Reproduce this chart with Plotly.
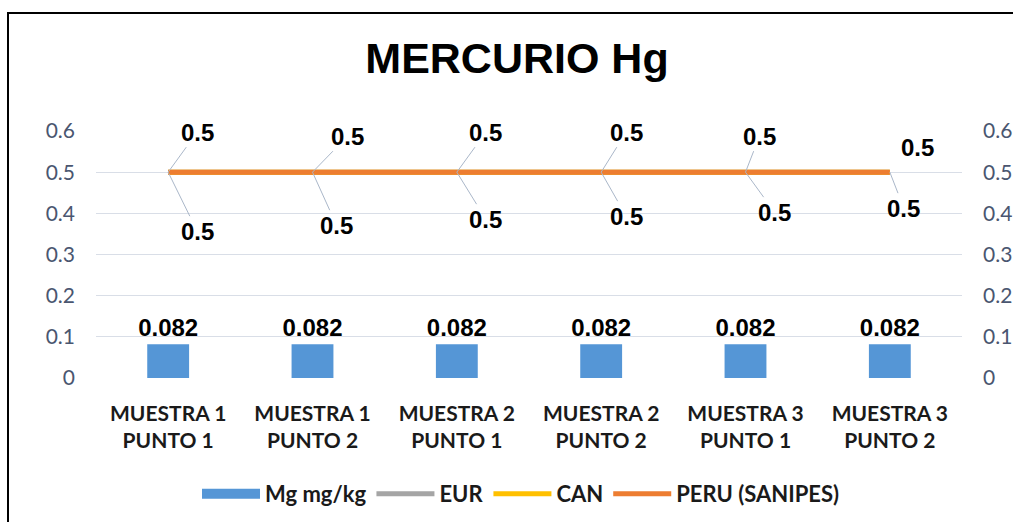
import plotly.graph_objects as go

categories = ["MUESTRA 1<br>PUNTO 1", "MUESTRA 1<br>PUNTO 2", "MUESTRA 2<br>PUNTO 1",
              "MUESTRA 2<br>PUNTO 2", "MUESTRA 3<br>PUNTO 1", "MUESTRA 3<br>PUNTO 2"]
mg_values = [0.082, 0.082, 0.082, 0.082, 0.082, 0.082]
eur_values = [0.5, 0.5, 0.5, 0.5, 0.5, 0.5]
can_values = [0.5, 0.5, 0.5, 0.5, 0.5, 0.5]
peru_values = [0.5, 0.5, 0.5, 0.5, 0.5, 0.5]
y_ticks = [0, 0.1, 0.2, 0.3, 0.4, 0.5, 0.6]

# label offsets (pixels) for the line data labels
top_offsets = [(29, -40), (35, -36), (29, -40), (25, -40), (14, -36), (28, -25)]
bot_offsets = [(29, 59), (24, 53), (29, 47), (25, 44), (29, 40), (14, 36)]

W, H = 1013, 522
L, R, T, B = 96, 51, 131, 144
pw, ph = W - L - R, H - T - B

BAR_COLOR = "#5596d6"
lblfont = dict(family="Liberation Sans", size=24, color="black", weight="bold")

fig = go.Figure()
fig.add_trace(go.Bar(
    x=categories, y=mg_values, name="Mg mg/kg", width=0.29, showlegend=False,
    legendgroup="mg",
    marker=dict(color=BAR_COLOR, line=dict(width=0)),
    text=[f"{v:.3f}" for v in mg_values], textposition="outside",
    textfont=lblfont, constraintext="none",
    cliponaxis=False,
))
# legend-only entry giving the wide rectangular swatch of the bar series
fig.add_trace(go.Scatter(
    x=[None], y=[None], name="Mg mg/kg", mode="lines", legendgroup="mg",
    line=dict(color=BAR_COLOR, width=14), hoverinfo="skip",
))
for name, vals, col in [("EUR", eur_values, "#a5a5a5"),
                        ("CAN", can_values, "#ffc000"),
                        ("PERU (SANIPES)", peru_values, "#ed7d31")]:
    fig.add_trace(go.Scatter(
        x=categories, y=vals, name=name, mode="lines", yaxis="y2",
        line=dict(color=col, width=5),
    ))

annotations = []
for i, c in enumerate(categories):
    ax, ay = top_offsets[i]
    if i == len(categories) - 1:
        annotations.append(dict(x=c, y=eur_values[i], xref="x", yref="y2",
                                text=f"{eur_values[i]}", showarrow=False,
                                xshift=ax, yshift=-ay, font=lblfont))
    else:
        annotations.append(dict(x=c, y=eur_values[i], xref="x", yref="y2",
                                text=f"{eur_values[i]}", showarrow=True, arrowhead=0,
                                arrowwidth=1, arrowcolor="#aab7c9", ax=ax, ay=ay, standoff=0,
                                font=lblfont))
    ax, ay = bot_offsets[i]
    annotations.append(dict(x=c, y=can_values[i], xref="x", yref="y2",
                            text=f"{can_values[i]}", showarrow=True, arrowhead=0,
                            arrowwidth=1, arrowcolor="#aab7c9", ax=ax, ay=ay, standoff=0,
                            font=lblfont))

tickfont = dict(family="Lato", size=21, color="#4a5670")
fig.update_layout(
    width=W, height=H,
    margin=dict(l=L, r=R, t=T, b=B, pad=0, autoexpand=False),
    paper_bgcolor="white", plot_bgcolor="white",
    title=dict(text="MERCURIO Hg", x=517 / W, xref="container", xanchor="center",
               y=1 - 58 / H, yref="container", yanchor="middle",
               font=dict(family="Liberation Sans", size=43, color="black", weight="bold")),
    xaxis=dict(showgrid=False, showline=False, ticks="", ticklabelstandoff=21,
               automargin=False,
               tickfont=dict(family="Lato", size=21, color="#1a1a1a", weight="bold")),
    yaxis=dict(range=[0, 0.6], tickvals=y_ticks, showgrid=True, gridcolor="#d9dee7",
               gridwidth=1, zeroline=False, showline=False, ticks="", automargin=False,
               ticklabelstandoff=20, tickfont=tickfont),
    yaxis2=dict(range=[0, 0.6], tickvals=y_ticks, overlaying="y", side="right",
                showgrid=False, zeroline=False, showline=False, ticks="", automargin=False,
                ticklabelstandoff=20, tickfont=tickfont),
    showlegend=True,
    legend=dict(orientation="h", x=(521 - L) / pw, xanchor="center",
                y=(ph - (494 - T)) / ph, yanchor="middle",
                font=dict(family="Lato", size=22, color="#1a1a1a", weight="bold"),
                itemwidth=58, traceorder="normal"),
    annotations=annotations,
    shapes=[dict(type="rect", xref="paper", yref="paper",
                 x0=(8 - L) / pw, x1=(W + 20 - L) / pw,
                 y0=-(H + 20 - T - ph) / ph, y1=(ph + T - 13) / ph,
                 line=dict(color="black", width=2), fillcolor="rgba(0,0,0,0)")],
    bargap=0.7,
)

fig.write_html("out.html", config={"displayModeBar": False},
               post_script="document.body.style.margin='0px';document.body.style.overflow='hidden';")
